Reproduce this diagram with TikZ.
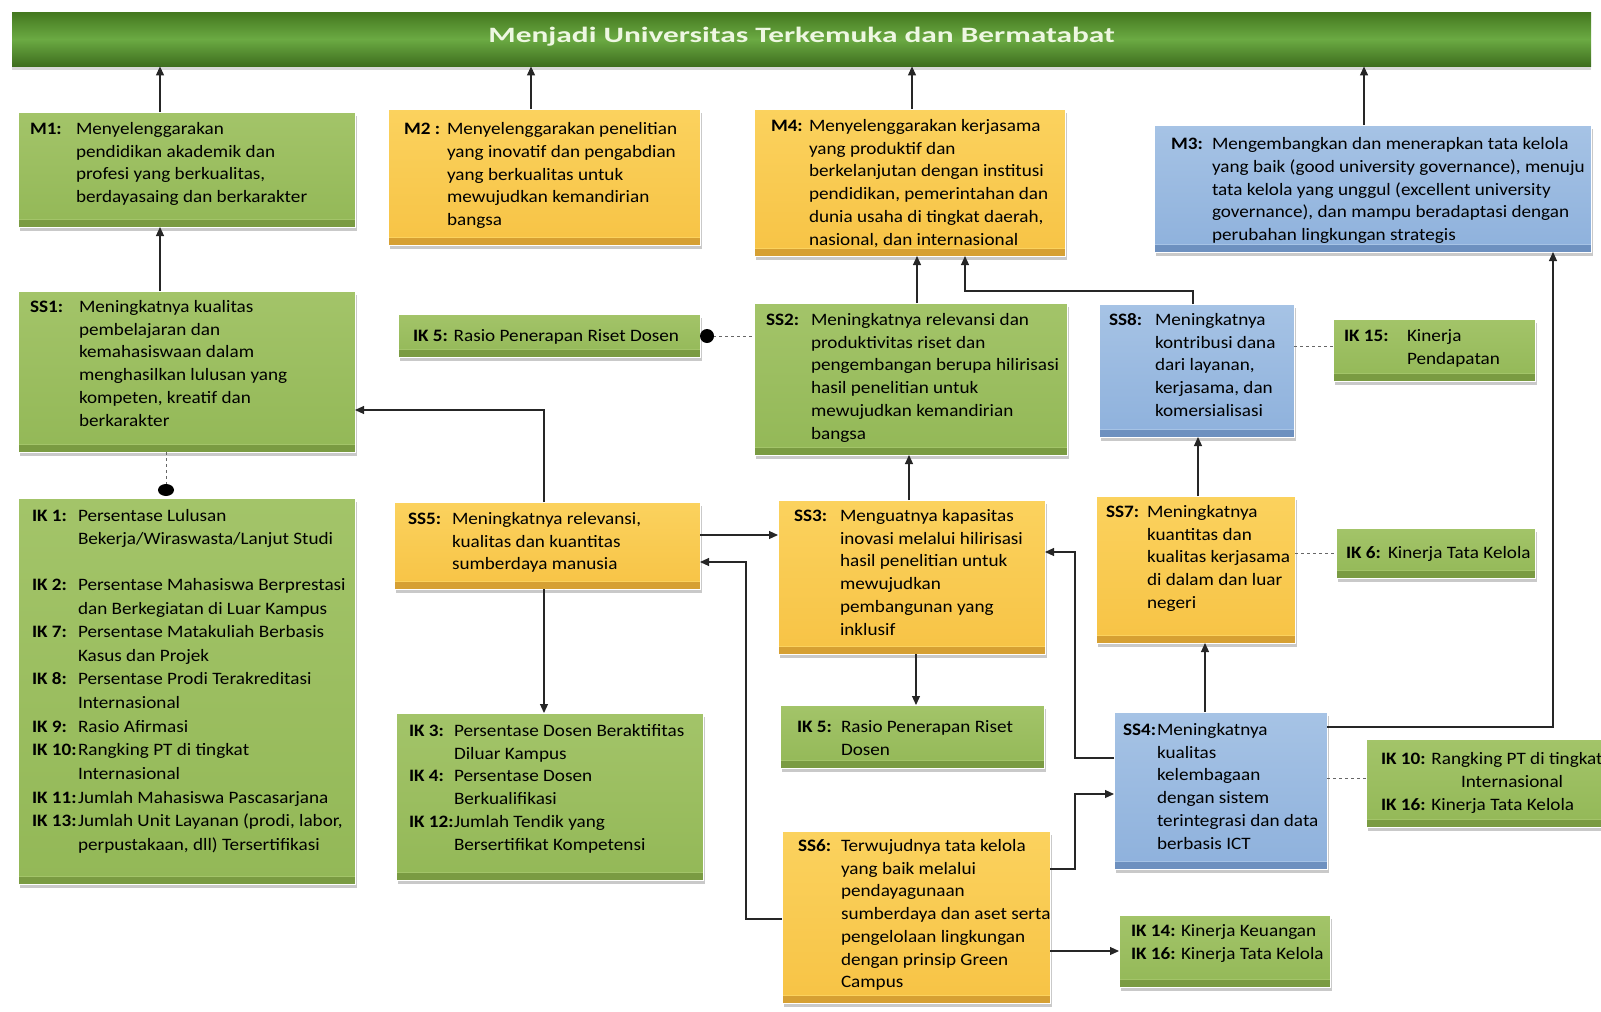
\documentclass[tikz,border=0pt]{standalone}
\usepackage{fontspec}
\usepackage{graphicx}
\setmainfont{Carlito}[FakeStretch=1.1]
\usetikzlibrary{arrows.meta,shadows}

\definecolor{gtop}{HTML}{A3C469}
\definecolor{gbot}{HTML}{93B857}
\definecolor{gband}{HTML}{7A9B42}
\definecolor{ytop}{HTML}{FBD25E}
\definecolor{ybot}{HTML}{F7C345}
\definecolor{yband}{HTML}{D6A033}
\definecolor{btop}{HTML}{A6C3E5}
\definecolor{bbot}{HTML}{8EB1DC}
\definecolor{bband}{HTML}{6D90BF}
\definecolor{bantop}{HTML}{44781F}
\definecolor{banmid}{HTML}{6BAA43}
\definecolor{banbot}{HTML}{3E6E1E}
\definecolor{bantext}{HTML}{EEF7E2}

% box placed by its corners (x0,y0)-(x1,y1), with left and top text padding
\newcommand\panel[9]{%
  \pgfmathsetmacro\pw{#5-#3}\pgfmathsetmacro\ph{#6-#4}%
  \node[#2,anchor=north west,inner sep=0pt,outer sep=0pt] (#1) at (#3,-#4)
    {\parbox[b][\ph bp][t]{\pw bp}{\vspace*{#8bp}\hspace*{#7bp}#9}};}
% label column of given width, text lines in the second column
\newcommand\rows[2]{\begin{tabular}[t]{@{}p{#1bp}@{}l@{}}#2\end{tabular}}

\tikzset{
  panel/.style n args={3}{
    drop shadow={shadow xshift=1.5bp,shadow yshift=-3.5bp,opacity=0.3,fill=black!70},
    draw=white,line width=0.8bp,top color=#1,bottom color=#2,
    path picture={
      \fill[#3] (path picture bounding box.south west) rectangle ([yshift=7bp]path picture bounding box.south east);
      \draw[#1,line width=1bp] ([yshift=7.5bp]path picture bounding box.south west) -- ([yshift=7.5bp]path picture bounding box.south east);
    }},
  gbox/.style={panel={gtop}{gbot}{gband}},
  ybox/.style={panel={ytop}{ybot}{yband}},
  bbox/.style={panel={btop}{bbot}{bband}},
  banner/.style={top color=bantop,bottom color=banbot,middle color=banmid,
    drop shadow={shadow xshift=0bp,shadow yshift=-4bp,opacity=0.25,fill=black!60},
    text=bantext,font=\fontsize{22}{26}\selectfont\bfseries},
  arr/.style={-{Triangle[length=9bp,width=8bp]},line width=1.1bp,draw=black!85},
  dsh/.style={dash pattern=on 3bp off 3bp,line width=1bp,draw=black!60},
}

\begin{document}
\begin{tikzpicture}[x=1bp,y=1bp,font=\fontsize{17.5}{22.8}\selectfont]
\useasboundingbox (0,0) rectangle (1601,-1011);

% vision banner
\node[banner,anchor=north west,minimum width=1579bp,minimum height=54bp,inner sep=0pt] (title) at (12,-12)
  {\raisebox{8bp}{\scalebox{1.3}[1]{Menjadi Universitas Terkemuka dan Bermatabat}}};

% missions
\panel{m1}{gbox}{18}{112}{355}{227}{12}{6.6}{\rows{46}{\textbf{M1:} & Menyelenggarakan\\ & pendidikan akademik dan\\ & profesi yang berkualitas,\\ & berdayasaing dan berkarakter}}
\panel{m2}{ybox}{388}{109}{700}{245}{16}{9.7}{\rows{43}{\textbf{M2 :} & Menyelenggarakan penelitian\\ & yang inovatif dan pengabdian\\ & yang berkualitas untuk\\ & mewujudkan kemandirian\\ & bangsa}}
\panel{m4}{ybox}{754}{109}{1065}{256}{17}{6.6}{\rows{38}{\textbf{M4:} & Menyelenggarakan kerjasama\\ & yang produktif dan\\ & berkelanjutan dengan institusi\\ & pendidikan, pemerintahan dan\\ & dunia usaha di tingkat daerah,\\ & nasional, dan internasional}}
\panel{m3}{bbox}{1154}{125}{1591}{252}{17}{8.7}{\rows{41}{\textbf{M3:} & Mengembangkan dan menerapkan tata kelola\\ & yang baik (good university governance), menuju\\ & tata kelola yang unggul (excellent university\\ & governance), dan mampu beradaptasi dengan\\ & perubahan lingkungan strategis}}

% strategic goals and indicators
\panel{ss1}{gbox}{18}{291}{355}{452}{12}{5.6}{\rows{49}{\textbf{SS1:} & Meningkatnya kualitas\\ & pembelajaran dan\\ & kemahasiswaan dalam\\ & menghasilkan lulusan yang\\ & kompeten, kreatif dan\\ & berkarakter}}
\panel{ik5a}{gbox}{398}{314}{700}{357}{15}{11.7}{\rows{0}{& \textbf{IK 5:} Rasio Penerapan Riset Dosen}}
\panel{ss2}{gbox}{754}{303}{1067}{455}{12}{6.6}{\rows{45}{\textbf{SS2:} & Meningkatnya relevansi dan\\ & produktivitas riset dan\\ & pengembangan berupa hilirisasi\\ & hasil penelitian untuk\\ & mewujudkan kemandirian\\ & bangsa}}
\panel{ss8}{bbox}{1099}{304}{1294}{437}{10}{5.6}{\rows{46}{\textbf{SS8:} & Meningkatnya\\ & kontribusi dana\\ & dari layanan,\\ & kerjasama, dan\\ & komersialisasi}}
\panel{ik15}{gbox}{1333}{319}{1535}{381}{11}{6.6}{\rows{63}{\textbf{IK 15:} & Kinerja\\ & Pendapatan}}
\panel{ika}{gbox}{18}{498}{355}{884}{14}{6.6}{\def\arraystretch{1.04}\rows{46}{\textbf{IK 1:} & Persentase Lulusan\\ & Bekerja/Wiraswasta/Lanjut Studi\\[22bp]
  \textbf{IK 2:} & Persentase Mahasiswa Berprestasi\\ & dan Berkegiatan di Luar Kampus\\
  \textbf{IK 7:} & Persentase Matakuliah Berbasis\\ & Kasus dan Projek\\
  \textbf{IK 8:} & Persentase Prodi Terakreditasi\\ & Internasional\\
  \textbf{IK 9:} & Rasio Afirmasi\\
  \textbf{IK 10:} & Rangking PT di tingkat\\ & Internasional\\
  \textbf{IK 11:} & Jumlah Mahasiswa Pascasarjana\\
  \textbf{IK 13:} & Jumlah Unit Layanan (prodi, labor,\\ & perpustakaan, dll) Tersertifikasi}}
\panel{ss5}{ybox}{394}{502}{700}{589}{14}{6.6}{\rows{44}{\textbf{SS5:} & Meningkatnya relevansi,\\ & kualitas dan kuantitas\\ & sumberdaya manusia}}
\panel{ss3}{ybox}{778}{500}{1045}{654}{16}{5.6}{\rows{46}{\textbf{SS3:} & Menguatnya kapasitas\\ & inovasi melalui hilirisasi\\ & hasil penelitian untuk\\ & mewujudkan\\ & pembangunan yang\\ & inklusif}}
\panel{ss7}{ybox}{1096}{496}{1295}{643}{10}{5.6}{\rows{41}{\textbf{SS7:} & Meningkatnya\\ & kuantitas dan\\ & kualitas kerjasama\\ & di dalam dan luar\\ & negeri}}
\panel{ik6}{gbox}{1336}{528}{1535}{578}{10}{14.8}{\rows{42}{\textbf{IK 6:} & Kinerja Tata Kelola}}
\panel{ikb}{gbox}{396}{713}{703}{880}{13}{7.6}{\rows{45}{\textbf{IK 3:} & Persentase Dosen Beraktifitas\\ & Diluar Kampus\\
  \textbf{IK 4:} & Persentase Dosen\\ & Berkualifikasi\\
  \textbf{IK 12:} & Jumlah Tendik yang\\ & Bersertifikat Kompetensi}}
\panel{ik5b}{gbox}{780}{705}{1044}{768}{17}{11.7}{\rows{44}{\textbf{IK 5:} & Rasio Penerapan Riset\\ & Dosen}}
\panel{ss4}{bbox}{1114}{712}{1327}{869}{9}{7.6}{\rows{34}{\textbf{SS4:} & Meningkatnya\\ & kualitas\\ & kelembagaan\\ & dengan sistem\\ & terintegrasi dan data\\ & berbasis ICT}}
\panel{ikc}{gbox}{1366}{739}{1610}{827}{15}{9.7}{\rows{0}{& \textbf{IK 10:} Rangking PT di tingkat\\ & \hspace*{80bp}Internasional\\ & \textbf{IK 16:} Kinerja Tata Kelola}}
\panel{ss6}{ybox}{782}{831}{1050}{1003}{16}{4.6}{\rows{43}{\textbf{SS6:} & Terwujudnya tata kelola\\ & yang baik melalui\\ & pendayagunaan\\ & sumberdaya dan aset serta\\ & pengelolaan lingkungan\\ & dengan prinsip Green\\ & Campus}}
\panel{ikd}{gbox}{1119}{915}{1330}{987}{12}{5.6}{\rows{50}{\textbf{IK 14:} & Kinerja Keuangan\\ \textbf{IK 16:} & Kinerja Tata Kelola}}

% guide positions for the connectors
\foreach \v in {160,166,531,544,746,909,912,916,917,965,1075,1193,1198,1205,1364,1553}
  \coordinate (X\v) at (\v,0);
\foreach \v in {291,336,346,410,535,552,553,562,727,758,778,794,869,919,951}
  \coordinate (Y\v) at (0,-\v);

% missions up to the vision
\draw[arr] (m1.north -| X160) -- (title.south -| X160);
\draw[arr] (m2.north -| X531) -- (title.south -| X531);
\draw[arr] (m4.north -| X912) -- (title.south -| X912);
\draw[arr] (m3.north -| X1364) -- (title.south -| X1364);

% goals up to missions
\draw[arr] (ss1.north -| X160) -- (m1.south -| X160);
\draw[arr] (ss2.north -| X917) -- (m4.south -| X917);
\draw[arr] (ss8.north -| X1193) |- (X965 |- Y291) -- (m4.south -| X965);
\draw[arr] (ss4.east |- Y727) -| (m3.south -| X1553);

% links between goals
\draw[arr] (ss5.north -| X544) |- (ss1.east |- Y410);
\draw[arr] (ss5.east |- Y535) -- (ss3.west |- Y535);
\draw[arr] (ss6.west |- Y919) -| (X746 |- Y562) -- (ss5.east |- Y562);
\draw[arr] (ss3.north -| X909) -- (ss2.south -| X909);
\draw[arr] (ss4.west |- Y758) -| (X1075 |- Y552) -- (ss3.east |- Y552);
\draw[arr] (ss6.east |- Y869) -| (X1075 |- Y794) -- (ss4.west |- Y794);
\draw[arr] (ss4.north -| X1205) -- (ss7.south -| X1205);
\draw[arr] (ss7.north -| X1198) -- (ss8.south -| X1198);

% goals to indicator boxes
\draw[arr] (ss5.south -| X544) -- (ikb.north -| X544);
\draw[arr] (ss3.south -| X916) -- (ik5b.north -| X916);
\draw[arr] (ss6.east |- Y951) -- (ikd.west |- Y951);
\path (ik5a.east |- Y336) ++(7,0) coordinate (dotA);
\draw[dsh] (dotA) -- (ss2.west |- dotA);
\fill (dotA) circle (7);
\path (ika.north -| X166) ++(0,8) coordinate (dotB);
\draw[dsh] (ss1.south -| X166) -- (dotB);
\fill (dotB) ellipse (8 and 6);
\draw[dsh] (ss8.east |- Y346) -- (ik15.west |- Y346);
\draw[dsh] (ss7.east |- Y553) -- (ik6.west |- Y553);
\draw[dsh] (ss4.east |- Y778) -- (ikc.west |- Y778);
\end{tikzpicture}
\end{document}
